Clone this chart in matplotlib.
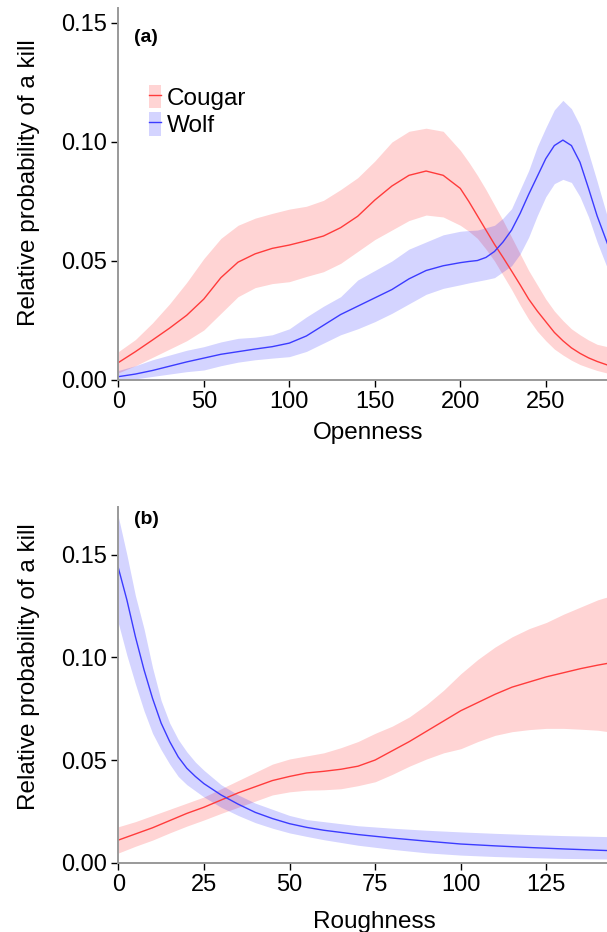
import matplotlib
matplotlib.use("Agg")
import matplotlib.pyplot as plt
from matplotlib.patches import Patch
from matplotlib.lines import Line2D
from matplotlib.legend_handler import HandlerTuple

plt.rcParams['font.family'] = ['Liberation Sans', 'DejaVu Sans']

# ---------------- Panel (a): Openness ----------------
open_x = [0, 10, 20, 30, 40, 50, 60, 70, 80, 90, 100, 110, 120, 130, 140, 150,
          160, 170, 180, 190, 200, 205, 210, 215, 220, 225, 230, 235, 240, 245, 250,
          255, 260, 265, 270, 275, 280, 286]
open_cougar = [0.0073, 0.0119, 0.0168, 0.0218, 0.0272, 0.0340, 0.0430, 0.0495, 0.0530, 0.0553,
               0.0567, 0.0585, 0.0605, 0.0640, 0.0688, 0.0756, 0.0815, 0.0860, 0.0878, 0.0860,
               0.0805, 0.0750, 0.0690, 0.0630, 0.0570, 0.0515, 0.0458, 0.0400, 0.0340, 0.0290,
               0.0245, 0.0200, 0.0165, 0.0135, 0.0112, 0.0093, 0.0078, 0.0063]
open_cougar_hi = [0.0119, 0.0170, 0.0240, 0.0320, 0.0410, 0.0510, 0.0595, 0.0650, 0.0680, 0.0700,
                  0.0718, 0.0730, 0.0755, 0.0800, 0.0850, 0.0920, 0.1000, 0.1045, 0.1058, 0.1045,
                  0.0965, 0.0915, 0.0860, 0.0800, 0.0735, 0.0670, 0.0600, 0.0530, 0.0460, 0.0400,
                  0.0340, 0.0290, 0.0250, 0.0215, 0.0190, 0.0168, 0.0150, 0.0140]
open_cougar_lo = [0.0030, 0.0060, 0.0095, 0.0130, 0.0165, 0.0210, 0.0280, 0.0350, 0.0388, 0.0405,
                  0.0413, 0.0435, 0.0455, 0.0490, 0.0540, 0.0590, 0.0630, 0.0670, 0.0693, 0.0685,
                  0.0650, 0.0625, 0.0595, 0.0550, 0.0500, 0.0440, 0.0380, 0.0315, 0.0255, 0.0205,
                  0.0165, 0.0130, 0.0105, 0.0083, 0.0065, 0.0052, 0.0040, 0.0029]
open_wolf = [0.0014, 0.0025, 0.0040, 0.0058, 0.0076, 0.0092, 0.0108, 0.0119, 0.0130, 0.0140,
             0.0155, 0.0185, 0.0230, 0.0275, 0.0310, 0.0345, 0.0380, 0.0425, 0.0460, 0.0480,
             0.0493, 0.0498, 0.0502, 0.0515, 0.0540, 0.0580, 0.0630, 0.0700, 0.0780, 0.0855,
             0.0930, 0.0985, 0.1008, 0.0985, 0.0915, 0.0805, 0.0690, 0.0574]
open_wolf_hi = [0.0040, 0.0060, 0.0085, 0.0105, 0.0125, 0.0140, 0.0160, 0.0175, 0.0180, 0.0190,
                0.0215, 0.0265, 0.0310, 0.0350, 0.0420, 0.0460, 0.0500, 0.0550, 0.0580, 0.0610,
                0.0625, 0.0628, 0.0630, 0.0640, 0.0650, 0.0680, 0.0720, 0.0800, 0.0880, 0.0980,
                0.1060, 0.1135, 0.1175, 0.1140, 0.1070, 0.0955, 0.0835, 0.0686]
open_wolf_lo = [0.0000, 0.0005, 0.0015, 0.0025, 0.0035, 0.0042, 0.0060, 0.0075, 0.0085, 0.0092,
                0.0098, 0.0120, 0.0155, 0.0190, 0.0215, 0.0245, 0.0280, 0.0320, 0.0360, 0.0385,
                0.0400, 0.0408, 0.0415, 0.0422, 0.0430, 0.0455, 0.0480, 0.0530, 0.0600, 0.0690,
                0.0770, 0.0825, 0.0843, 0.0830, 0.0770, 0.0685, 0.0580, 0.0470]

# ---------------- Panel (b): Roughness ----------------
rough_wolf_x = [0, 2.5, 5, 7.5, 10, 12.5, 15, 17.5, 20, 22.5, 25, 30, 35, 40, 45, 50, 55,
                60, 70, 80, 90, 100, 110, 120, 130, 143]
rough_wolf = [0.1436, 0.1280, 0.1100, 0.0940, 0.0800, 0.0680, 0.0590, 0.0515, 0.0460, 0.0420,
              0.0385, 0.0330, 0.0285, 0.0245, 0.0215, 0.0190, 0.0172, 0.0158, 0.0137, 0.0120,
              0.0105, 0.0091, 0.0082, 0.0074, 0.0067, 0.0059]
rough_wolf_hi = [0.1685, 0.1500, 0.1300, 0.1140, 0.0950, 0.0790, 0.0680, 0.0600, 0.0540, 0.0490,
                 0.0450, 0.0380, 0.0330, 0.0290, 0.0260, 0.0230, 0.0210, 0.0200, 0.0180, 0.0168,
                 0.0158, 0.0150, 0.0143, 0.0137, 0.0132, 0.0127]
rough_wolf_lo = [0.1167, 0.1010, 0.0870, 0.0740, 0.0630, 0.0550, 0.0480, 0.0420, 0.0380, 0.0350,
                 0.0320, 0.0270, 0.0230, 0.0195, 0.0168, 0.0145, 0.0128, 0.0112, 0.0085, 0.0065,
                 0.0048, 0.0037, 0.0030, 0.0025, 0.0021, 0.0018]

rough_cougar_x = [0, 5, 10, 15, 20, 25, 30, 35, 40, 45, 50, 55, 60, 65, 70, 75, 80, 85, 90, 95,
                  100, 105, 110, 115, 120, 125, 130, 135, 140, 143]
rough_cougar = [0.0110, 0.0140, 0.0170, 0.0205, 0.0240, 0.0270, 0.0305, 0.0340, 0.0370, 0.0400,
                0.0420, 0.0437, 0.0445, 0.0455, 0.0470, 0.0500, 0.0545, 0.0590, 0.0640, 0.0690,
                0.0740, 0.0780, 0.0820, 0.0855, 0.0880, 0.0905, 0.0925, 0.0945, 0.0962, 0.0971]
rough_cougar_hi = [0.0175, 0.0200, 0.0230, 0.0260, 0.0290, 0.0320, 0.0360, 0.0400, 0.0440, 0.0480,
                   0.0505, 0.0520, 0.0535, 0.0560, 0.0590, 0.0630, 0.0665, 0.0710, 0.0770, 0.0840,
                   0.0920, 0.0990, 0.1050, 0.1100, 0.1140, 0.1170, 0.1210, 0.1245, 0.1280, 0.1295]
rough_cougar_lo = [0.0047, 0.0080, 0.0110, 0.0145, 0.0178, 0.0208, 0.0240, 0.0270, 0.0300, 0.0330,
                   0.0345, 0.0353, 0.0355, 0.0360, 0.0375, 0.0394, 0.0430, 0.0470, 0.0505, 0.0535,
                   0.0555, 0.0590, 0.0620, 0.0638, 0.0648, 0.0654, 0.0654, 0.0650, 0.0645, 0.0638]

species = ["Cougar", "Wolf"]
open_ticks = [0, 50, 100, 150, 200, 250]
rough_ticks = [0, 25, 50, 75, 100, 125]
yticks_a = [0.00, 0.05, 0.10, 0.15]
yticks_b = [0.00, 0.05, 0.10, 0.15]

RED_LINE = '#ff3b3b'
BLUE_LINE = '#3b3bff'
RED_FILL = '#ff0000'
BLUE_FILL = '#0000ff'
FILL_ALPHA = 0.17
FS = 17.5

W, H = 607, 932
fig = plt.figure(figsize=(W / 100, H / 100), dpi=100)

ax_a = fig.add_axes([118.3 / W, 1 - 380 / H, 1 - 118.3 / W, (380 - 8) / H])
ax_b = fig.add_axes([118.3 / W, 1 - 862.7 / H, 1 - 118.3 / W, (862.7 - 507) / H])


def style(ax):
    for s in ['top', 'right']:
        ax.spines[s].set_visible(False)
    for s in ['left', 'bottom']:
        ax.spines[s].set_color('#999999')
        ax.spines[s].set_linewidth(1.4)
    ax.tick_params(axis='both', direction='out', length=5, width=1.0, color='black',
                   labelsize=17, pad=3)
    ax.tick_params(axis='x', pad=3)


# Panel a
ax_a.fill_between(open_x, open_cougar_lo, open_cougar_hi, color=RED_FILL, alpha=FILL_ALPHA, lw=0)
ax_a.fill_between(open_x, open_wolf_lo, open_wolf_hi, color=BLUE_FILL, alpha=FILL_ALPHA, lw=0)
ax_a.plot(open_x, open_cougar, color=RED_LINE, lw=1.0)
ax_a.plot(open_x, open_wolf, color=BLUE_LINE, lw=1.0)
ax_a.set_xlim(0, 285.8)
ax_a.set_ylim(0, 0.1563)
ax_a.set_xticks(open_ticks)
ax_a.set_yticks(yticks_a)
ax_a.set_yticklabels([f"{v:.2f}" for v in yticks_a])
style(ax_a)
ax_a.set_xlabel("Openness", fontsize=FS)
ax_a.set_ylabel("Relative probability of a kill", fontsize=FS)
ax_a.xaxis.set_label_coords(0.511, -0.113)
ax_a.yaxis.set_label_coords(-0.16, 0.53)
ax_a.text(0.032, 0.921, "(a)", transform=ax_a.transAxes, fontsize=14, fontweight='bold',
          va='center', ha='left')

handles = [(Patch(facecolor=RED_FILL, alpha=FILL_ALPHA, lw=0), Line2D([], [], color=RED_LINE, lw=1.0)),
           (Patch(facecolor=BLUE_FILL, alpha=FILL_ALPHA, lw=0), Line2D([], [], color=BLUE_LINE, lw=1.0))]
ax_a.legend(handles, species, handler_map={tuple: HandlerTuple(ndivide=1)},
            loc='upper left', bbox_to_anchor=((148.7 - 118.3) / 488.7, 1 - (85 - 8) / 372),
            frameon=False, fontsize=FS, borderpad=0, borderaxespad=0,
            handlelength=0.52, handleheight=1.1, handletextpad=0.22, labelspacing=0.1)

# Panel b
ax_b.fill_between(rough_cougar_x, rough_cougar_lo, rough_cougar_hi, color=RED_FILL, alpha=FILL_ALPHA, lw=0)
ax_b.fill_between(rough_wolf_x, rough_wolf_lo, rough_wolf_hi, color=BLUE_FILL, alpha=FILL_ALPHA, lw=0)
ax_b.plot(rough_cougar_x, rough_cougar, color=RED_LINE, lw=1.0)
ax_b.plot(rough_wolf_x, rough_wolf, color=BLUE_LINE, lw=1.0)
ax_b.set_xlim(0, 142.7)
ax_b.set_ylim(0, 0.1732)
ax_b.set_xticks(rough_ticks)
ax_b.set_yticks(yticks_b)
ax_b.set_yticklabels([f"{v:.2f}" for v in yticks_b])
style(ax_b)
ax_b.set_xlabel("Roughness", fontsize=FS)
ax_b.set_ylabel("Relative probability of a kill", fontsize=FS)
ax_b.xaxis.set_label_coords(0.525, -0.135)
ax_b.yaxis.set_label_coords(-0.16, 0.55)
ax_b.text(0.032, 0.965, "(b)", transform=ax_b.transAxes, fontsize=14, fontweight='bold',
          va='center', ha='left')

fig.savefig("out.png", dpi=100)
